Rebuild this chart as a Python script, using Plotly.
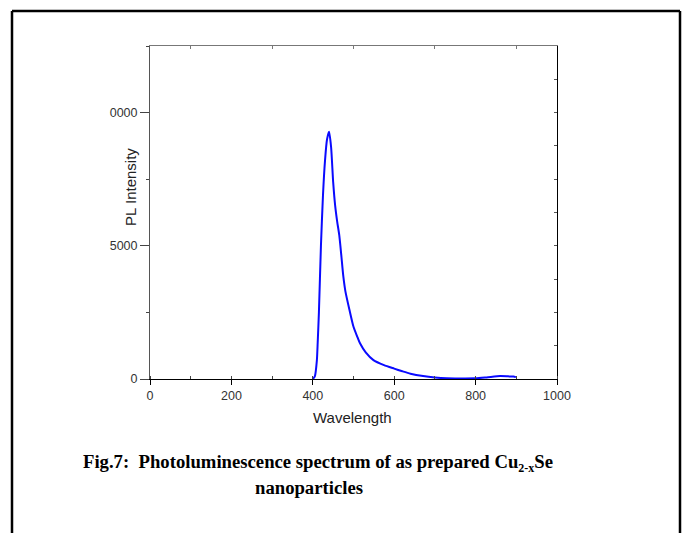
import plotly.graph_objects as go

wavelength = [400, 405, 410, 412, 415, 420, 425, 430, 435, 440, 445, 450, 455, 460, 465,
              470, 475, 480, 490, 500, 510, 516, 530, 549, 575, 600, 620, 640, 671, 700, 729,
              760, 800, 827, 860, 880, 893, 899]
intensity = [0, 100, 700, 1350, 2500, 5000, 6900, 8200, 9000, 9280, 8700, 7400, 6500, 5900, 5400,
             4650, 3850, 3300, 2600, 1960, 1560, 1340, 1000, 710, 520, 390, 290, 200, 110, 55, 25,
             20, 25, 60, 110, 100, 90, 70]

x_ticks = [0, 200, 400, 600, 800, 1000]
x_ticklabels = ["0", "200", "400", "600", "800", "1000"]
y_ticks = [0, 5000, 10000]
y_ticklabels = ["0", "5000", "0000"]

W, H = 684, 533
L, R, T, B = 150, 557, 46, 379
pw, ph = R - L, B - T

def px(x):
    return (x - L) / pw

def py(y):
    return (B - y) / ph

tickfont = dict(family="Liberation Sans, Arial", size=12.5, color="#333333")
titlefont = dict(family="Liberation Sans, Arial", size=15, color="#222222")

fig = go.Figure()
fig.add_trace(go.Scatter(x=wavelength, y=intensity, mode="lines",
                         line=dict(color="#0a0aff", width=2, shape="spline", smoothing=0.6),
                         showlegend=False, hoverinfo="skip"))
fig.add_trace(go.Scatter(x=[0], y=[0], xaxis="x2", yaxis="y2", mode="markers",
                         marker=dict(opacity=0), showlegend=False, hoverinfo="skip"))

fig.update_layout(
    width=W, height=H,
    margin=dict(l=L, r=W - R, t=T, b=H - B, pad=0),
    paper_bgcolor="white", plot_bgcolor="white",
    xaxis=dict(range=[0, 1000], tickvals=x_ticks, ticktext=x_ticklabels,
               showgrid=False, zeroline=False, showline=True, linecolor="black", linewidth=1,
               ticks="outside", ticklen=5, tickcolor="black", tickfont=tickfont,
               minor=dict(dtick=100, tick0=0, ticks="inside", ticklen=3, tickcolor="#444")),
    yaxis=dict(range=[0, 12500], tickvals=y_ticks, ticktext=y_ticklabels,
               showgrid=False, zeroline=False, showline=True, linecolor="#555", linewidth=1,
               ticks="outside", ticklen=9, tickcolor="#444", tickfont=tickfont,
               minor=dict(dtick=2500, tick0=0, ticks="outside", ticklen=3, tickcolor="#444")),
    xaxis2=dict(range=[0, 1000], overlaying="x", side="top", showticklabels=False,
                showgrid=False, zeroline=False, showline=True, linecolor="#777", linewidth=1,
                tickvals=[100, 300, 500, 700, 900], ticks="inside", ticklen=3, tickcolor="#777"),
    yaxis2=dict(range=[0, 12500], overlaying="y", side="right", showticklabels=False,
                showgrid=False, zeroline=False, showline=True, linecolor="black", linewidth=1,
                dtick=1250, tick0=0, ticks="inside", ticklen=3, tickcolor="#555"),
)

# outer frame (open at the bottom)
frame = dict(color="black", width=2.5)
fig.add_shape(type="line", xref="paper", yref="paper", x0=px(12), x1=px(12), y0=py(11), y1=py(545), line=frame)
fig.add_shape(type="line", xref="paper", yref="paper", x0=px(12), x1=px(680), y0=py(11), y1=py(11), line=frame)
fig.add_shape(type="line", xref="paper", yref="paper", x0=px(680), x1=px(680), y0=py(11), y1=py(545), line=frame)

# axis titles
fig.add_annotation(xref="paper", yref="paper", x=px(352), y=py(418), text="Wavelength",
                   showarrow=False, font=titlefont, xanchor="center", yanchor="middle")
fig.add_annotation(xref="paper", yref="paper", x=px(130), y=py(187), text="PL Intensity",
                   showarrow=False, font=titlefont, textangle=-90, xanchor="center", yanchor="middle")

cap_font = dict(family="Liberation Serif, Times New Roman", size=18.7, color="black")
fig.add_annotation(xref="paper", yref="paper", x=px(318), y=py(463),
                   text="<b>Fig.7:\u00a0 Photoluminescence spectrum of as prepared Cu<sub><span style='font-size:12px'>2-x</span></sub>Se</b>",
                   showarrow=False, font=cap_font, xanchor="center", yanchor="middle")
fig.add_annotation(xref="paper", yref="paper", x=px(309), y=py(487),
                   text="<b>nanoparticles</b>",
                   showarrow=False, font=cap_font, xanchor="center", yanchor="middle")

fig.write_html("out.html", config={"displayModeBar": False},
               post_script="document.body.style.margin='0';document.body.style.overflow='hidden';")
